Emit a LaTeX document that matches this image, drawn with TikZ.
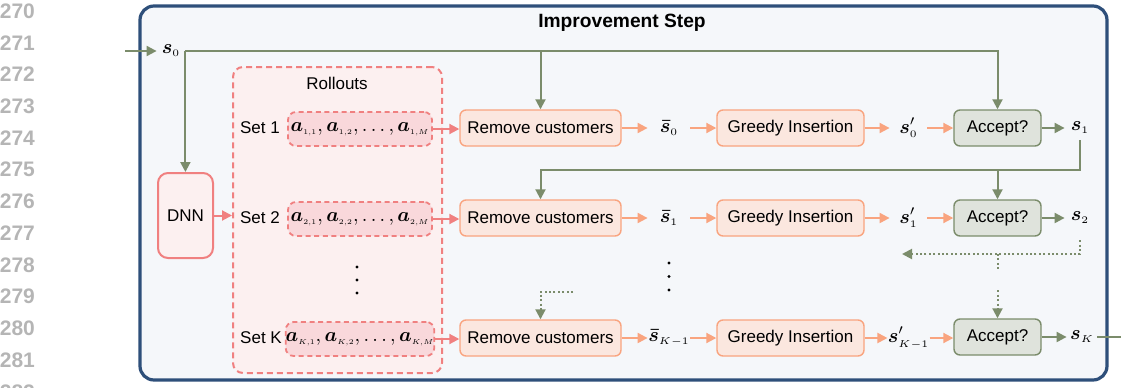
\documentclass[tikz,border=0pt]{standalone}
\usepackage{amsmath,amssymb}
\usepackage{graphicx}
\usepackage{fontspec}
\setmainfont{Liberation Sans}
\usetikzlibrary{arrows.meta,positioning,calc}

\definecolor{stepblue}{HTML}{2E4F7A}
\definecolor{stepbg}{HTML}{F5F7FA}
\definecolor{rollred}{HTML}{F08080}
\definecolor{rollbg}{HTML}{FCF0F0}
\definecolor{actbg}{HTML}{F9D8DB}
\definecolor{oporange}{HTML}{F9A47F}
\definecolor{opbg}{HTML}{FBE7DF}
\definecolor{accgreen}{HTML}{7B8C6B}
\definecolor{accbg}{HTML}{DFE3DC}
\definecolor{linegray}{HTML}{B5B5B5}

\newcommand{\tinysub}[1]{\scalebox{0.72}{$\scriptscriptstyle #1$}}
\newcommand{\act}[2]{\boldsymbol{a}_{\tinysub{#1,#2}}}
\newcommand{\actrow}[1]{$\act{#1}{1}, \act{#1}{2}, \ldots, \act{#1}{M}$}
\newcommand{\st}[1]{\boldsymbol{s}_{\scriptscriptstyle #1}}

\begin{document}
\begin{tikzpicture}[x=0.5pt,y=-0.5pt,
  txt/.style={font=\fontsize{8.5}{10}\selectfont},
  lineno/.style={anchor=east,text=linegray,font=\bfseries\fontsize{10.5}{12}\selectfont},
  opbox/.style={txt,draw=oporange,fill=opbg,line width=0.7pt,rounded corners=3pt,minimum height=18pt,inner sep=0pt},
  accbox/.style={txt,draw=accgreen,fill=accbg,line width=0.7pt,rounded corners=3pt,minimum height=18pt,minimum width=43.5pt,inner sep=0pt},
  actbox/.style={draw=rollred,fill=actbg,line width=0.9pt,dash pattern=on 2.5pt off 1.8pt,rounded corners=4pt,minimum width=72pt,minimum height=17pt,inner sep=0pt,font=\fontsize{10}{12}\selectfont},
  state/.style={inner sep=0pt,minimum height=12pt,font=\fontsize{10}{12}\selectfont},
  tip/.style={-{Triangle[length=5pt,width=5pt]}},
  garrow/.style={tip,draw=accgreen,line width=1pt},
  gdot/.style={garrow,dash pattern=on 1pt off 1.2pt},
  oarrow/.style={tip,draw=oporange,line width=1pt},
  rarrow/.style={tip,draw=rollred,line width=1pt}]

\useasboundingbox (0,0) rectangle (1121,387);

% line numbers of the page
\foreach \n [count=\i from 0] in {270,...,282}
  \node[lineno] (ln\n) at (42,11+31.75*\i) {\n};

% frame
\node[draw=stepblue,fill=stepbg,line width=1.6pt,rounded corners=7pt,
  minimum width=483.5pt,minimum height=187pt] (step) at (623.5,193) {};
\node[font=\bfseries\fontsize{9.6}{11}\selectfont] (title) at (622,23) {Improvement Step};

% input state and network
\node[state,minimum width=14pt] (s0) at (171,51) {$\st{0}$};
\coordinate (in) at (125,51);
\node[txt,draw=rollred,fill=rollbg,line width=1pt,rounded corners=5pt,
  minimum width=27.5pt,minimum height=42.5pt] (dnn) at (185.5,215.5) {DNN};

% rollouts
\node[draw=rollred,fill=rollbg,line width=1pt,dash pattern=on 3pt off 2pt,rounded corners=5pt,
  minimum width=104.5pt,minimum height=153pt] (rolls) at (337.5,220) {};
\node[txt] (rolltitle) at (337,83) {Rollouts};

\node[txt] (set1) at (260,128) {Set 1};
\node[txt] (set2) at (260,218) {Set 2};
\node[txt] (setK) at (261,338) {Set K};

\node[actbox] (act1) at (360,129) {\actrow{1}};
\node[actbox] (act2) at (360,219) {\actrow{2}};
\node[actbox] (actK) at (360,339) {\actrow{K}};

% removal
\node[opbox,minimum width=80.5pt] (rem1) at (540.5,128) {Remove customers};
\node[opbox,minimum width=80.5pt] (rem2) at (540.5,218) {Remove customers};
\node[opbox,minimum width=80.5pt] (remK) at (540.5,338) {Remove customers};

\node[state,minimum width=21pt] (sb1) at (669,128) {$\boldsymbol{\bar{s}}_{\scriptscriptstyle 0}$};
\node[state,minimum width=21pt] (sb2) at (669,218) {$\boldsymbol{\bar{s}}_{\scriptscriptstyle 1}$};
\node[state,minimum width=21pt] (sbK) at (669,338) {$\boldsymbol{\bar{s}}_{\scriptscriptstyle K-1}$};

% insertion
\node[opbox,minimum width=73.5pt] (ins1) at (790.5,128) {Greedy Insertion};
\node[opbox,minimum width=73.5pt] (ins2) at (790.5,218) {Greedy Insertion};
\node[opbox,minimum width=73.5pt] (insK) at (790.5,338) {Greedy Insertion};

\node[state,minimum width=18.5pt] (sp1) at (908.5,128) {$\boldsymbol{s}'_{\scriptscriptstyle 0}$};
\node[state,minimum width=18.5pt] (sp2) at (908.5,218) {$\boldsymbol{s}'_{\scriptscriptstyle 1}$};
\node[state,minimum width=18.5pt] (spK) at (908.5,338) {$\boldsymbol{s}'_{\scriptscriptstyle K-1}$};

% acceptance
\node[accbox] (acc1) at (997.5,128) {Accept?};
\node[accbox] (acc2) at (997.5,218) {Accept?};
\node[accbox] (accK) at (997.5,337) {Accept?};

\node[state,minimum width=15pt] (s1) at (1080,128) {$\st{1}$};
\node[state,minimum width=15pt] (s2) at (1080,218) {$\st{2}$};
\node[state,minimum width=15pt] (sK) at (1082,337) {$\st{K}$};
\coordinate (out) at (1136,337);

% vertical dots
\foreach \d in {0,1,2} {
  \fill (357,267+13*\d) circle (0.8pt);
  \fill (669,263+13.5*\d) circle (0.8pt);
}

% connectors
\draw[garrow] (in) -- (s0);
\draw[garrow] (s0.east) -| (acc1.north);
\draw[garrow] (s0.east -| rem1.north) -- (rem1.north);
\draw[garrow] (s0.east) -- (s0.east |- dnn.north);
\draw[rarrow] (dnn.east) -- (dnn.east -| rolls.west);

\foreach \r in {1,2,K} {
  \draw[rarrow] (act\r.east) -- (act\r.east -| rem\r.west);
  \draw[oarrow] (rem\r) -- (sb\r);
  \draw[oarrow] (sb\r) -- (ins\r);
  \draw[oarrow] (ins\r) -- (sp\r);
  \draw[oarrow] (sp\r) -- (sp\r -| acc\r.west);
  \draw[garrow] (acc\r) -- (s\r);
}
\draw[garrow] (sK) -- (out);

\coordinate (loop1) at (0,170);
\draw[garrow] (s1.south) |- (loop1 -| rem2.north) -- (rem2.north);
\draw[garrow] (loop1 -| acc2.north) -- (acc2.north);

\coordinate (back) at (902,254);
\draw[gdot,shorten <=5pt] (s2.south) |- (back);
\draw[draw=accgreen,line width=1pt,dash pattern=on 1pt off 1.2pt] (back -| acc2.south) -- ++(0,16);
\draw[gdot] ($(accK.north)+(0,-28)$) -- (accK.north);
\coordinate (prevK) at (573,292);
\draw[gdot] (prevK) -| (remK.north);
\end{tikzpicture}
\end{document}
